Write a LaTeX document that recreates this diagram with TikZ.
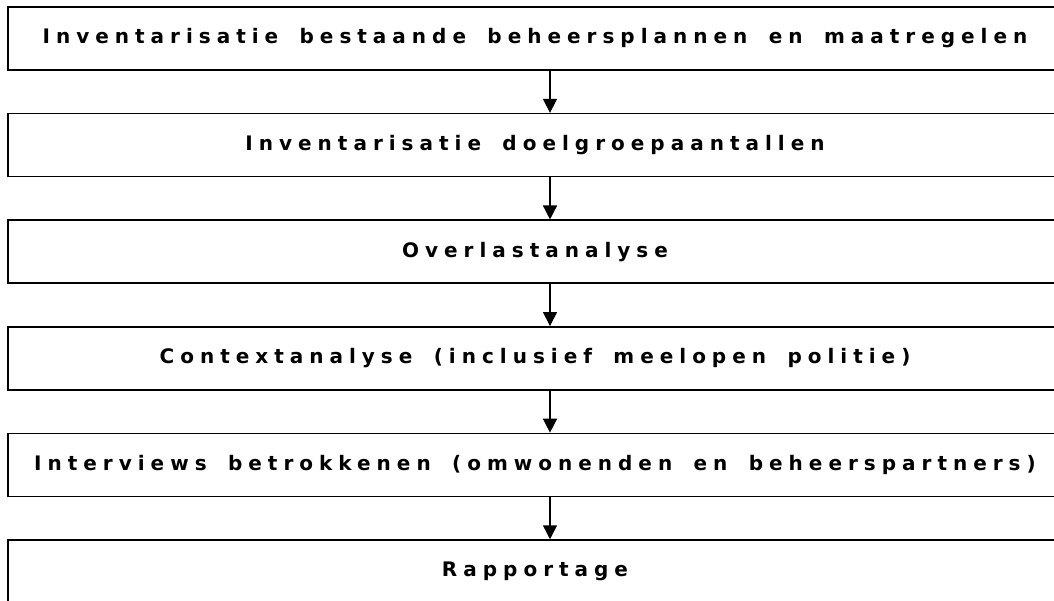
\documentclass[tikz,border=0pt]{standalone}
\usepackage{fontspec}
\setmainfont{DejaVu Sans}
\newfontfamily\stepfont[LetterSpace=30, WordSpace=1.65]{DejaVu Sans}
\usetikzlibrary{arrows.meta}

\begin{document}
\begin{tikzpicture}[x=1pt, y=-1pt,
    stepbox/.style={draw, line width=1.5pt, minimum width=1054pt, minimum height=63pt,
      inner sep=0pt, font=\stepfont\bfseries\fontsize{20}{24}\selectfont},
    flow/.style={line width=1.5pt, -{Triangle[width=14pt, length=14pt]}}]
        \useasboundingbox (0,0) rectangle (1054,600);
        % Draw the steps
        \foreach \i/\txt in {0/{Inventarisatie bestaande beheersplannen en maatregelen},
                             1/{Inventarisatie doelgroepaantallen},
                             2/{Overlastanalyse},
                             3/{Contextanalyse (inclusief meelopen politie)},
                             4/{Interviews betrokkenen (omwonenden en beheerspartners)},
                             5/{Rapportage}} {
            \node[stepbox] (s\i) at (535, 38.5+106.6*\i) {\txt};
        }
        % Draw the arrows between the steps
        \foreach \i in {0,1,2,3,4} {
            \draw[flow] ([xshift=15pt]s\i.south) -- ([xshift=15pt]s\the\numexpr\i+1\relax.north);
        }
    \end{tikzpicture}
\end{document}
